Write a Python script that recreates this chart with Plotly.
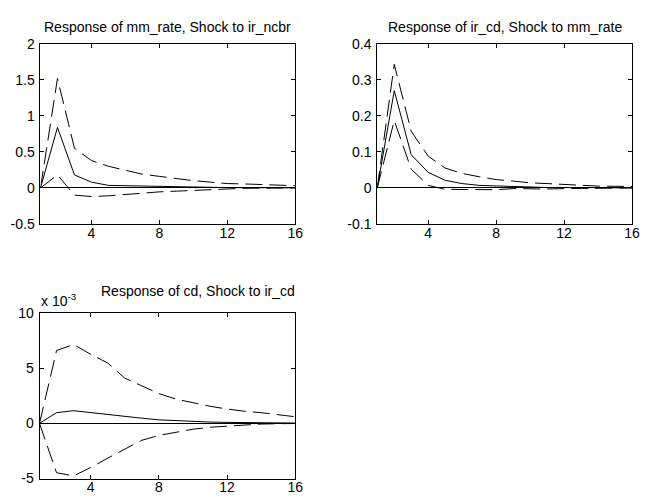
import plotly.graph_objects as go

W, H = 645, 504

periods = list(range(1, 17))

# Response of mm_rate, shock to ir_ncbr
mm_rate_mid = [0, 0.84, 0.18, 0.08, 0.035, 0.03, 0.022, 0.016, 0.012, 0.009, 0.006, 0.004, 0.003, 0.002, 0.001, 0.001]
mm_rate_up = [0, 1.52, 0.55, 0.38, 0.30, 0.25, 0.19, 0.16, 0.125, 0.10, 0.08, 0.06, 0.055, 0.045, 0.035, 0.03]
mm_rate_lo = [0, 0.18, -0.10, -0.12, -0.11, -0.09, -0.07, -0.055, -0.045, -0.035, -0.02, -0.01, -0.005, -0.003, -0.002, -0.001]

# Response of ir_cd, shock to mm_rate
ir_cd_mid = [0, 0.27, 0.092, 0.043, 0.021, 0.012, 0.007, 0.005, 0.003, 0.002, 0.001, 0.001, 0.0005, 0.0003, 0.0002, 0.0001]
ir_cd_up = [0, 0.343, 0.157, 0.088, 0.055, 0.04, 0.031, 0.023, 0.019, 0.014, 0.012, 0.009, 0.007, 0.005, 0.0045, 0.004]
ir_cd_lo = [0, 0.187, 0.052, 0.007, -0.004, -0.005, -0.006, -0.005, -0.002, -0.003, -0.003, -0.002, -0.001, -0.001, -0.0005, 0]

# Response of cd, shock to ir_cd (in units of 10^-3)
cd_mid = [0, 0.97, 1.15, 0.97, 0.8, 0.6, 0.47, 0.32, 0.24, 0.18, 0.12, 0.09, 0.06, 0.05, 0.03, 0.03]
cd_up = [0, 6.6, 7.15, 6.26, 5.47, 4.1, 3.4, 2.7, 2.2, 1.85, 1.55, 1.3, 1.1, 0.97, 0.8, 0.6]
cd_lo = [0, -4.47, -4.76, -4.0, -3.15, -2.35, -1.53, -1.09, -0.79, -0.53, -0.35, -0.24, -0.15, -0.06, -0.03, -0.01]

titles = [
    "Response of mm_rate, Shock to ir_ncbr",
    "Response of ir_cd, Shock to mm_rate",
    "Response of cd, Shock to ir_cd",
]
y_ticks = [
    [-0.5, 0, 0.5, 1, 1.5, 2],
    [-0.1, 0, 0.1, 0.2, 0.3, 0.4],
    [-5, 0, 5, 10],
]
y_ticktext = [
    ["-0.5", "0", "0.5", "1", "1.5", "2"],
    ["-0.1", "0", "0.1", "0.2", "0.3", "0.4"],
    ["-5", "0", "5", "10"],
]
x_ticks = [4, 8, 12, 16]

# pixel boxes of the three axes: left, right, top, bottom
boxes = [(41, 299, 37, 223), (382, 640, 37, 223), (40, 299, 315, 486)]
panels = [
    (mm_rate_mid, mm_rate_up, mm_rate_lo),
    (ir_cd_mid, ir_cd_up, ir_cd_lo),
    (cd_mid, cd_up, cd_lo),
]

FONT = "Liberation Sans, Arial, sans-serif"
fig = go.Figure()
layout = dict(
    width=W, height=H, margin=dict(l=0, r=0, t=0, b=0),
    paper_bgcolor="white", plot_bgcolor="white", showlegend=False,
    font=dict(family=FONT, size=14, color="black"),
)
annotations = []

for i, ((mid, up, lo), (l, r, t, b)) in enumerate(zip(panels, boxes)):
    n = "" if i == 0 else str(i + 1)
    xa, ya = "x" + n, "y" + n
    for series, dash in ((up, "17px,7px"), (mid, "solid"), (lo, "17px,7px")):
        fig.add_trace(go.Scatter(
            x=periods, y=series, mode="lines", xaxis=xa, yaxis=ya,
            line=dict(color="black", width=1, dash=dash),
            hoverinfo="skip",
        ))
    axcommon = dict(
        showgrid=False, showline=True, linecolor="black", linewidth=1,
        mirror="allticks", ticks="inside", ticklen=4, tickcolor="black",
        tickfont=dict(family=FONT, size=14, color="black"),
        ticklabeloverflow="allow",
    )
    layout["xaxis" + n] = dict(
        domain=[l / W, r / W], range=[1, 16], anchor=ya,
        tickvals=x_ticks, ticktext=[str(v) for v in x_ticks],
        zeroline=False, ticklabelstandoff=-4, **axcommon,
    )
    yr = [y_ticks[i][0], y_ticks[i][-1]]
    layout["yaxis" + n] = dict(
        domain=[1 - b / H, 1 - t / H], range=yr, anchor=xa,
        tickvals=y_ticks[i], ticktext=y_ticktext[i],
        zeroline=True, zerolinecolor="black", zerolinewidth=1,
        ticklabelstandoff=2, **axcommon,
    )
    cx = (l + r) / 2 if i < 2 else 200
    annotations.append(dict(
        text=titles[i], x=cx / W, y=1 - 20 / H if i < 2 else 1 - 292 / H,
        xref="paper", yref="paper", xanchor="center", yanchor="middle",
        showarrow=False, font=dict(family=FONT, size=14, color="black"),
    ))

# exponent label of the third panel's y axis
annotations.append(dict(
    text="x 10<sup>-3</sup>", x=39 / W, y=1 - 302 / H,
    xref="paper", yref="paper", xanchor="left", yanchor="middle",
    showarrow=False, font=dict(family=FONT, size=14, color="black"),
))

layout["annotations"] = annotations
fig.update_layout(**layout)
fig.write_html("out.html")
